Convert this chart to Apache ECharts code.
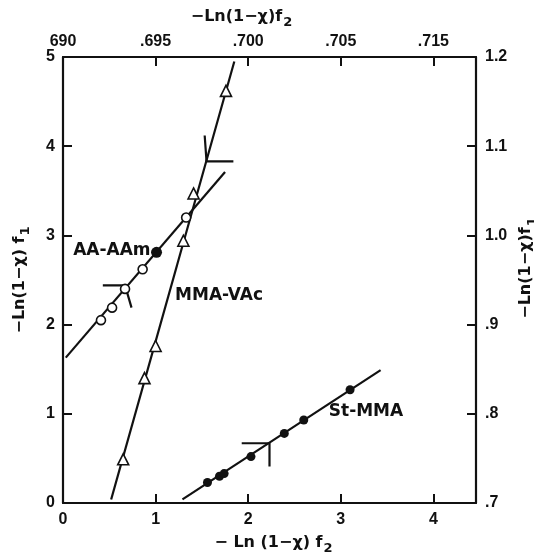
<!DOCTYPE html>
<html>
<head>
	<meta charset="utf-8">
	<title>Ln(1-X) f1 vs f2</title>
	<style type="text/css">
		body{
			margin: 0;
			background-color: #fff;
		}
		#main{
			width: 534px;
			height: 558px;
		}
	</style>
	<script src="https://cdn.jsdelivr.net/npm/echarts@6/dist/echarts.min.js"></script>
</head>
<body>
	<div id="main"></div>
	<script type="text/javascript">

	// tick labels as printed on the figure
	var topLabels = ['690', '.695', '.700', '.705', '.715'];
	var rightLabels = ['.7', '.8', '.9', '1.0', '1.1', '1.2'];

	// AA-AAm (open circles, one filled)
	var aaOpen = [[0.41, 2.05], [0.53, 2.19], [0.67, 2.40], [0.86, 2.62], [1.33, 3.20]];
	var aaFilled = [[1.01, 2.81]];
	var aaLine = [[0.03, 1.63], [1.75, 3.71]];
	var aaCorner = [[0.43, 2.44], [0.67, 2.44], [0.74, 2.19]];

	// MMA-VAc (triangles)
	var mmaPts = [[0.65, 0.49], [0.88, 1.40], [1.00, 1.76], [1.30, 2.94], [1.41, 3.47], [1.76, 4.62]];
	var mmaLine = [[0.52, 0.04], [1.85, 4.95]];
	var mmaCorner = [[1.53, 4.12], [1.55, 3.83], [1.84, 3.83]];

	// St-MMA (filled circles)
	var stPts = [[1.56, 0.23], [1.69, 0.30], [1.74, 0.33], [2.03, 0.52], [2.39, 0.78], [2.60, 0.93], [3.10, 1.27]];
	var stLine = [[1.29, 0.04], [3.43, 1.49]];
	var stCorner = [[1.93, 0.67], [2.23, 0.67], [2.23, 0.41]];

	// curve labels
	var curveNames = [
		{name: 'AA-AAm', value: [0.11, 2.83]},
		{name: 'MMA-VAc', value: [1.21, 2.33]},
		{name: 'St-MMA', value: [2.87, 1.02]}
	];

	var ink = '#111';
	var font = 'Liberation Sans';
	var titleFont = 'DejaVu Sans';

	function titleStyle(){
		return {
			color: ink, fontFamily: titleFont, fontWeight: 'bold', fontSize: 16,
			rich: {
				a: {color: ink, fontFamily: titleFont, fontWeight: 'bold', fontSize: 16},
				b: {color: ink, fontFamily: titleFont, fontWeight: 'bold', fontSize: 13, padding: [12, 0, 0, 1]}
			}
		};
	}

	function axisBase(){
		return {
			type: 'value',
			axisLine: {show: true, onZero: false, lineStyle: {color: ink, width: 2.2}},
			axisTick: {show: true, inside: true, length: 9, lineStyle: {color: ink, width: 2}},
			axisLabel: {color: ink, fontFamily: font, fontWeight: 'bold', fontSize: 16, showMaxLabel: false},
			splitLine: {show: false},
			nameLocation: 'middle',
			nameTextStyle: titleStyle()
		};
	}

	var xBottom = axisBase();
	xBottom.position = 'bottom';
	xBottom.min = 0; xBottom.max = 4.46; xBottom.interval = 1;
	xBottom.axisLabel.margin = 9;
	xBottom.name = '{a|− Ln (1−χ) f}{b|2}';
	xBottom.nameGap = 27;
	xBottom.nameTextStyle.padding = [0, 0, 0, 8];

	var xTop = axisBase();
	xTop.position = 'top';
	xTop.min = 0; xTop.max = 4.46; xTop.interval = 1;
	xTop.axisLabel.margin = 7;
	xTop.axisLabel.formatter = function(v){ return topLabels[Math.round(v)] || ''; };
	xTop.name = '{a|−Ln(1−χ)f}{b|2}';
	xTop.nameGap = 24;
	xTop.nameTextStyle.padding = [0, 56, 0, 0];

	var yLeft = axisBase();
	yLeft.position = 'left';
	yLeft.min = 0; yLeft.max = 5; yLeft.interval = 1;
	yLeft.axisLabel.margin = 8;
	yLeft.axisLabel.showMaxLabel = true;
	yLeft.name = '{a|−Ln(1−χ) f}{b|1}';
	yLeft.nameRotate = 90;
	yLeft.nameGap = 31;

	var yRight = axisBase();
	yRight.position = 'right';
	yRight.min = 0; yRight.max = 5; yRight.interval = 1;
	yRight.axisLabel.margin = 9;
	yRight.axisLabel.showMaxLabel = true;
	yRight.axisLabel.formatter = function(v){ return rightLabels[Math.round(v)] || ''; };
	yRight.name = '{a|−Ln(1−χ)f}{b|1}';
	yRight.nameRotate = 90;
	yRight.nameGap = 16;
	yRight.nameTextStyle.padding = [0, 0, 0, 24];

	function plainLine(data){
		return {
			type: 'line', data: data, symbol: 'none', silent: true, z: 1,
			lineStyle: {color: ink, width: 2.2}
		};
	}

	var option = {
		animation: false,
		backgroundColor: '#fff',
		grid: {left: 63, top: 57, width: 413, height: 446, containLabel: false, outerBoundsMode: 'none'},
		xAxis: [xBottom, xTop],
		yAxis: [yLeft, yRight],
		series: [
			plainLine(aaLine), plainLine(aaCorner),
			plainLine(mmaLine), plainLine(mmaCorner),
			plainLine(stLine), plainLine(stCorner),
			{
				type: 'scatter', data: aaOpen, symbol: 'circle', symbolSize: 9, z: 3,
				itemStyle: {color: '#fff', borderColor: ink, borderWidth: 1.6, opacity: 1}
			},
			{
				type: 'scatter', data: aaFilled, symbol: 'circle', symbolSize: 11, z: 3,
				itemStyle: {color: ink, opacity: 1}
			},
			{
				type: 'scatter', data: mmaPts, symbol: 'triangle', symbolSize: 11, z: 3,
				itemStyle: {color: '#fff', borderColor: ink, borderWidth: 1.6, opacity: 1}
			},
			{
				type: 'scatter', data: stPts, symbol: 'circle', symbolSize: 9, z: 3,
				itemStyle: {color: ink, opacity: 1}
			},
			{
				type: 'scatter', data: curveNames, symbolSize: 0, z: 4, silent: true,
				itemStyle: {opacity: 1},
				label: {
					show: true, position: 'right', distance: 0,
					formatter: function(p){ return p.name; },
					color: ink, fontFamily: titleFont, fontWeight: 'bold', fontSize: 17
				}
			}
		]
	};

	var myChart = echarts.init(document.getElementById('main'));
	myChart.setOption(option);

	</script>
</body>
</html>
